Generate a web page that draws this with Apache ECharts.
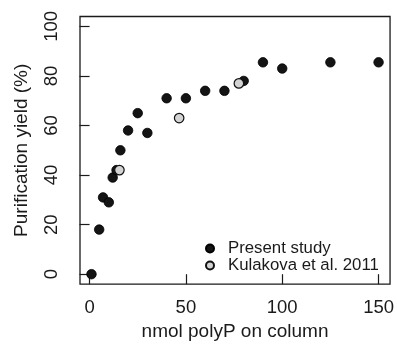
<!DOCTYPE html>
<html>
<head>
<meta charset="utf-8">
<script src="https://cdn.jsdelivr.net/npm/echarts@6/dist/echarts.min.js"></script>
<style>
  html, body { margin: 0; padding: 0; background: #fff; }
  #chart { width: 397px; height: 346px; }
</style>
</head>
<body>
<div id="chart"></div>
<script>
// data: [nmol polyP, yield %]
const presentStudy = [
  [1, 0], [5, 18], [7, 31], [10, 29], [12, 39], [14, 42], [16, 50],
  [20, 58], [25, 65], [30, 57], [40, 71], [50, 71], [60, 74], [70, 74],
  [80, 78], [90, 85.5], [100, 83], [125, 85.5], [150, 85.5]
];
const kulakova = [[15.5, 42], [46.5, 63], [77.5, 77]];
const xTicks = [0, 50, 100, 150];
const yTicks = [0, 20, 40, 60, 80, 100];
const seriesNames = ['Present study', 'Kulakova et al. 2011'];

const font = 'Liberation Sans, Arial, Helvetica, sans-serif';
const ink = '#1a1a1a';

const myChart = echarts.init(document.getElementById('chart'));

const options = {
  animation: false,
  textStyle: { fontFamily: font, color: ink },
  grid: {
    left: 80, top: 16.5, right: 3.5, bottom: 57,
    show: true,
    borderColor: ink,
    borderWidth: 1.3
  },
  legend: {
    data: seriesNames,
    orient: 'vertical',
    left: 200,
    top: 235,
    itemGap: 0,
    itemWidth: 26,
    itemHeight: 8,
    icon: 'circle',
    textStyle: { fontFamily: font, fontSize: 16.8, color: ink }
  },
  xAxis: {
    type: 'value',
    min: -4.96,
    max: 155.96,
    name: 'nmol polyP on column',
    nameLocation: 'middle',
    nameGap: 33,
    nameTextStyle: { fontFamily: font, fontSize: 19, color: ink },
    splitLine: { show: false },
    axisLine: { show: false },
    axisTick: {
      show: true, inside: false, length: 10,
      customValues: xTicks,
      lineStyle: { color: ink, width: 1.2 }
    },
    axisLabel: {
      customValues: xTicks,
      margin: 14,
      fontSize: 18.5,
      color: ink,
      fontFamily: font
    }
  },
  yAxis: {
    type: 'value',
    min: -4,
    max: 104,
    name: 'Purification yield (%)',
    nameLocation: 'middle',
    nameGap: 49,
    nameTextStyle: { fontFamily: font, fontSize: 19, color: ink },
    splitLine: { show: false },
    axisLine: { show: false },
    axisTick: {
      show: true, inside: false, length: 10,
      customValues: yTicks,
      lineStyle: { color: ink, width: 1.2 }
    },
    axisLabel: {
      customValues: yTicks,
      rotate: 90,
      margin: 19,
      fontSize: 18.5,
      color: ink,
      fontFamily: font
    }
  },
  series: [
    {
      name: seriesNames[0],
      type: 'scatter',
      symbol: 'circle',
      symbolSize: 9.5,
      itemStyle: { color: '#141414', borderColor: '#000', borderWidth: 0.8, opacity: 1 },
      data: presentStudy
    },
    {
      name: seriesNames[1],
      type: 'scatter',
      symbol: 'circle',
      symbolSize: 9.5,
      itemStyle: { color: '#d3d3d3', borderColor: '#111', borderWidth: 1.2, opacity: 1 },
      data: kulakova
    }
  ]
};
myChart.setOption(options);
</script>
</body>
</html>
